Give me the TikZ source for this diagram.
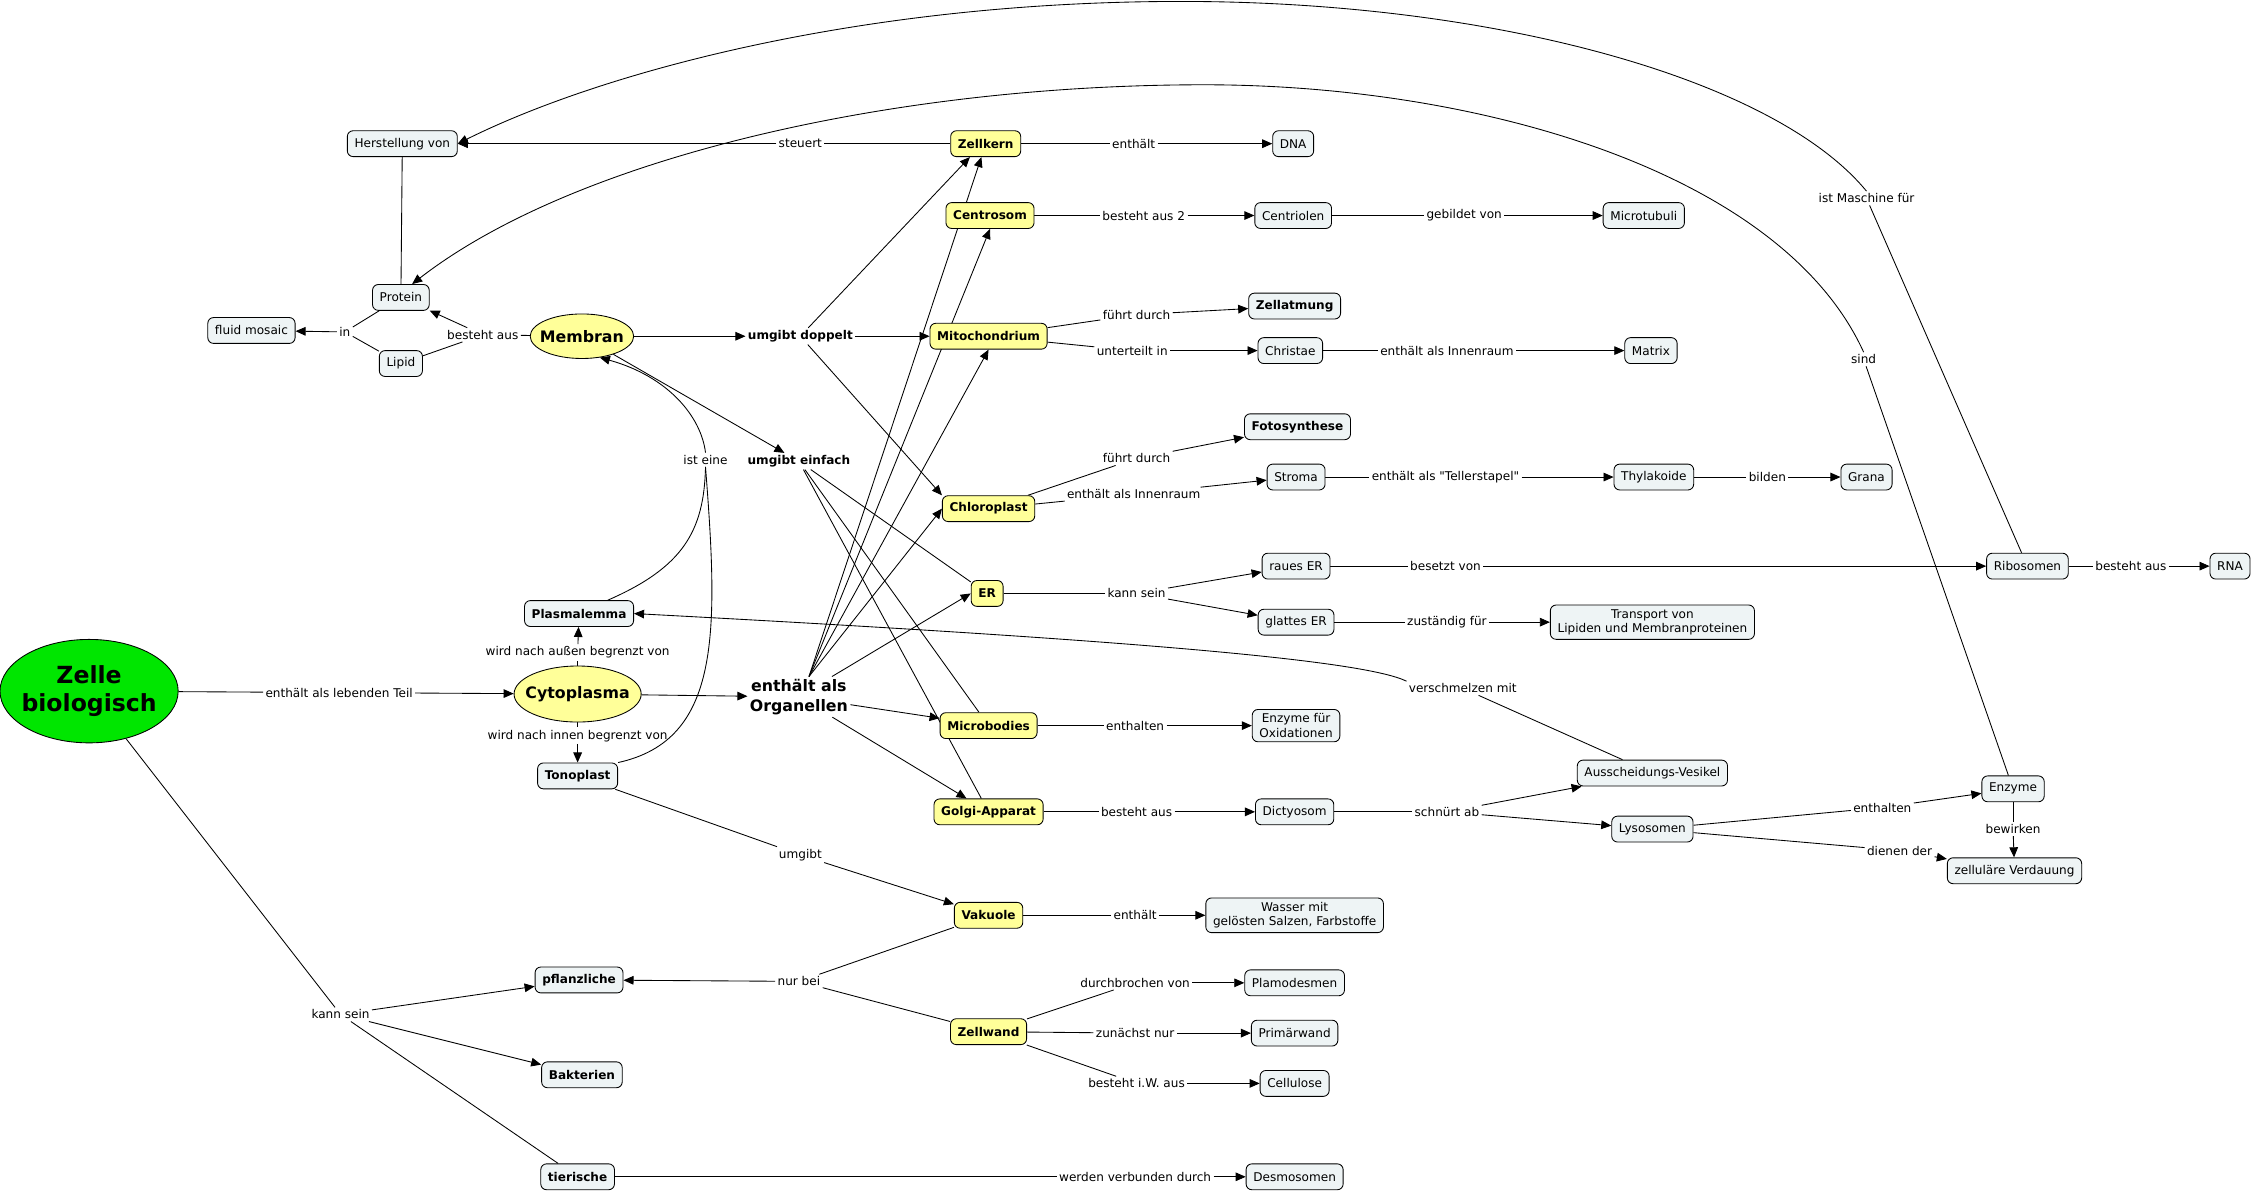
\documentclass[tikz,border=0pt]{standalone}
\usepackage{fontspec}
\setmainfont{DejaVu Sans}[Ligatures=TeXOff]
\usetikzlibrary{shapes.geometric, arrows.meta}
\pgfdeclarelayer{background}
\pgfsetlayers{background,main}

\definecolor{konzept}{RGB}{238,244,245}
\definecolor{organell}{RGB}{255,255,153}
\definecolor{zellgruen}{RGB}{0,230,0}

\tikzset{
  cpt/.style={draw, line width=0.6pt, rounded corners=4pt, fill=konzept, align=center,
    font=\fontsize{8.4}{10}\selectfont, inner xsep=5pt, inner ysep=3pt, minimum height=18pt},
  cptb/.style={cpt, font=\fontsize{8.4}{10}\selectfont\bfseries},
  orgn/.style={cptb, fill=organell},
  oval/.style={draw, line width=0.6pt, ellipse, fill=organell, inner xsep=-5pt, inner ysep=0pt,
    font=\fontsize{11}{14}\selectfont\bfseries},
  lbl/.style={font=\fontsize{8.4}{10}\selectfont, inner sep=1.5pt},
  lblb/.style={lbl, font=\fontsize{8.4}{10}\selectfont\bfseries},
  lblgross/.style={lbl, align=center, font=\fontsize{11}{14}\selectfont\bfseries},
  con/.style={line width=0.6pt},
  arr/.style={con, -{Triangle[length=7pt,width=6pt]}},
}

\begin{document}
\begin{tikzpicture}[x=1pt,y=-1pt]
\useasboundingbox (0,0) rectangle (1568,830);

% Begriffe
\node[cpt] (herstellung) at (280,100) {Herstellung von};
\node[orgn] (zellkern) at (686,100) {Zellkern};
\node[cpt] (dna) at (900,100) {DNA};
\node[orgn] (centrosom) at (689,150) {Centrosom};
\node[cpt] (centriolen) at (900,150) {Centriolen};
\node[cpt] (microtubuli) at (1144,150) {Microtubuli};
\node[cpt] (protein) at (279,207) {Protein};
\node[cpt] (fluid) at (175,230) {fluid mosaic};
\node[cpt] (lipid) at (279,253) {Lipid};
\node[oval, minimum width=72pt, minimum height=31pt] (membran) at (405,234) {Membran};
\node[cptb] (zellatmung) at (901,213) {Zellatmung};
\node[orgn] (mito) at (688,234) {Mitochondrium};
\node[cpt] (christae) at (898,244) {Christae};
\node[cpt] (matrix) at (1149,244) {Matrix};
\node[cptb] (foto) at (903,297) {Fotosynthese};
\node[cpt] (stroma) at (902,332) {Stroma};
\node[cpt] (thylakoide) at (1151,332) {Thylakoide};
\node[cpt] (grana) at (1299,332) {Grana};
\node[orgn] (chloro) at (688,354) {Chloroplast};
\node[cpt] (raues) at (902,394) {raues ER};
\node[cpt] (ribo) at (1411,394) {Ribosomen};
\node[cpt] (rna) at (1552,394) {RNA};
\node[orgn] (er) at (687,413) {ER};
\node[cpt] (glattes) at (902,433) {glattes ER};
\node[cpt] (transport) at (1150,433) {Transport von\\Lipiden und Membranproteinen};
\node[cptb] (plasma) at (403,427) {Plasmalemma};
\node[oval, fill=zellgruen, inner xsep=-4pt, minimum width=124pt, minimum height=72pt,
  align=center, font=\fontsize{16.4}{20}\selectfont\bfseries] (zelle) at (62,481) {Zelle\\biologisch};
\node[oval, minimum width=88pt, minimum height=39pt] (cyto) at (402,483) {Cytoplasma};
\node[orgn] (mikro) at (688,505) {Microbodies};
\node[cpt] (enzox) at (902,505) {Enzyme für\\Oxidationen};
\node[cpt] (vesikel) at (1150,538) {Ausscheidungs-Vesikel};
\node[cptb] (tono) at (402,540) {Tonoplast};
\node[cpt] (enzyme) at (1401,549) {Enzyme};
\node[orgn] (golgi) at (688,565) {Golgi-Apparat};
\node[cpt] (dictyo) at (901,565) {Dictyosom};
\node[cpt] (lyso) at (1150,577) {Lysosomen};
\node[cpt] (verdauung) at (1402,606) {zelluläre Verdauung};
\node[orgn] (vakuole) at (688,637) {Vakuole};
\node[cpt] (wasser) at (901,637) {Wasser mit\\gelösten Salzen, Farbstoffe};
\node[cptb] (pflanz) at (403,682) {pflanzliche};
\node[cpt] (plamo) at (901,684) {Plamodesmen};
\node[orgn] (zellwand) at (688,718) {Zellwand};
\node[cpt] (primaer) at (901,719) {Primärwand};
\node[cptb] (bakt) at (405,748) {Bakterien};
\node[cpt] (cellulose) at (901,754) {Cellulose};
\node[cptb] (tier) at (402,819) {tierische};
\node[cpt] (desmo) at (901,819) {Desmosomen};

% Verbindungswoerter
\node[lbl] (lsteuert) at (557,100) {steuert};
\node[lbl] (lenth1) at (789,100) {enthält};
\node[lbl] (lbest2) at (796,150) {besteht aus 2};
\node[lbl] (lgebildet) at (1019,150) {gebildet von};
\node[lbl] (lmaschine) at (1299,138) {ist Maschine für};
\node[lbl] (lsind) at (1297,250) {sind};
\node[lbl] (lin) at (240,231) {in};
\node[lbl] (lbesteht) at (336,233) {besteht aus};
\node[lblb] (ldoppelt) at (557,234) {umgibt doppelt};
\node[lblb] (leinfach) at (556,321) {umgibt einfach};
\node[lbl] (lfuehrt1) at (791,219) {führt durch};
\node[lbl] (lunterteilt) at (788,244) {unterteilt in};
\node[lbl] (linnen1) at (1007,244) {enthält als Innenraum};
\node[lbl] (lfuehrt2) at (791,319) {führt durch};
\node[lbl] (linnen2) at (789,344) {enthält als Innenraum};
\node[lbl] (lteller) at (1006,332) {enthält als "Tellerstapel"};
\node[lbl] (lbilden) at (1230,332) {bilden};
\node[lbl] (listeine) at (491,320) {ist eine};
\node[lbl] (lkann1) at (791,413) {kann sein};
\node[lbl] (lbesetzt) at (1006,394) {besetzt von};
\node[lbl] (lbest3) at (1483,394) {besteht aus};
\node[lbl] (lzust) at (1007,433) {zuständig für};
\node[lbl] (laussen) at (402,454) {wird nach außen begrenzt von};
\node[lbl] (llebend) at (236,482) {enthält als lebenden Teil};
\node[lbl] (linnen) at (402,512) {wird nach innen begrenzt von};
\node[lblgross] (lorg) at (556,485) {enthält als\\Organellen};
\node[lbl] (lverschm) at (1018,479) {verschmelzen mit};
\node[lbl] (lenthalten1) at (790,505) {enthalten};
\node[lbl] (lbest4) at (791,565) {besteht aus};
\node[lbl] (lschnuert) at (1007,565) {schnürt ab};
\node[lbl] (lenthalten2) at (1310,562) {enthalten};
\node[lbl] (lbewirken) at (1401,577) {bewirken};
\node[lbl] (ldienen) at (1322,592) {dienen der};
\node[lbl] (lumgibt) at (557,595) {umgibt};
\node[lbl] (lenth2) at (790,637) {enthält};
\node[lbl] (lnurbei) at (556,683) {nur bei};
\node[lbl] (ldurch) at (790,684) {durchbrochen von};
\node[lbl] (lzunaechst) at (790,719) {zunächst nur};
\node[lbl] (liwaus) at (791,754) {besteht i.W. aus};
\node[lbl] (lkann2) at (237,706) {kann sein};
\node[lbl] (lverbunden) at (790,819) {werden verbunden durch};

\begin{pgfonlayer}{background}
\fill[white] (0,0) rectangle (1568,830);

\draw[con] (zellkern) -- (lsteuert);
\draw[arr] (lsteuert) -- (herstellung);
\draw[con] (zellkern) -- (lenth1);
\draw[arr] (lenth1) -- (dna);
\draw[con] (centrosom) -- (lbest2);
\draw[arr] (lbest2) -- (centriolen);
\draw[con] (centriolen) -- (lgebildet);
\draw[arr] (lgebildet) -- (microtubuli);
\draw[con] (herstellung) -- (protein);

% die grossen Boegen
\draw[con] (ribo) -- (lmaschine);
\draw[arr] (lmaschine.north) .. controls (1235,55) and (1040,1) .. (822,1)
  .. controls (600,1) and (419,50) .. (herstellung.east);
\draw[con] (enzyme) -- (lsind);
\draw[arr] (lsind.north) .. controls (1240,120) and (1030,59) .. (838,59)
  .. controls (620,59) and (400,110) .. (protein.50);

\draw[con] (protein) -- (lin);
\draw[con] (lipid) -- (lin);
\draw[arr] (lin) -- (fluid);
\draw[con] (membran) -- (lbesteht);
\draw[arr] (lbesteht) -- (protein);
\draw[con] (lbesteht) -- (lipid);

\draw[arr] (membran) -- (ldoppelt);
\draw[arr] (ldoppelt) -- (mito);
\draw[arr] (ldoppelt) -- ([xshift=-11pt]zellkern.south);
\draw[arr] (ldoppelt) -- (chloro.north west);
\draw[arr] (membran) -- (leinfach);
\draw[con] (leinfach) -- (er);
\draw[con] (leinfach) -- (mikro);
\draw[con] (leinfach) -- (golgi);

\draw[con] (zelle) -- (llebend);
\draw[arr] (llebend) -- (cyto);
\draw[con] (cyto) -- (laussen);
\draw[arr] (laussen) -- (plasma);
\draw[con] (cyto) -- (linnen);
\draw[arr] (linnen) -- (tono);
\draw[arr] (cyto) -- (lorg);

% Organellen
\draw[arr] ([xshift=7pt]lorg.north) -- ([xshift=-3pt]zellkern.south);
\draw[arr] ([xshift=7pt]lorg.north) -- (centrosom.south);
\draw[arr] ([xshift=7pt]lorg.north) -- (mito.south);
\draw[arr] ([xshift=7pt]lorg.north) -- (chloro.west);
\draw[arr] ([xshift=23pt]lorg.north) -- (er.west);
\draw[arr] (lorg) -- (mikro);
\draw[arr] (lorg) -- (golgi);

\draw[con] (mito) -- (lfuehrt1);
\draw[arr] (lfuehrt1) -- (zellatmung);
\draw[con] (mito) -- (lunterteilt);
\draw[arr] (lunterteilt) -- (christae);
\draw[con] (christae) -- (linnen1);
\draw[arr] (linnen1) -- (matrix);

\draw[con] (chloro) -- (lfuehrt2);
\draw[arr] (lfuehrt2) -- (foto);
\draw[con] (chloro) -- (linnen2);
\draw[arr] (linnen2) -- (stroma);
\draw[con] (stroma) -- (lteller);
\draw[arr] (lteller) -- (thylakoide);
\draw[con] (thylakoide) -- (lbilden);
\draw[arr] (lbilden) -- (grana);

\draw[con] (er) -- (lkann1);
\draw[arr] (lkann1) -- (raues);
\draw[arr] (lkann1) -- (glattes);
\draw[con] (raues) -- (lbesetzt);
\draw[arr] (lbesetzt) -- (ribo);
\draw[con] (ribo) -- (lbest3);
\draw[arr] (lbest3) -- (rna);
\draw[con] (glattes) -- (lzust);
\draw[arr] (lzust) -- (transport);

\draw[con] ([xshift=20pt]plasma.north) .. controls (475,395) and (490,370) .. (listeine.south);
\draw[con] (tono.north east) .. controls (502,515) and (500,440) .. (listeine.south);
\draw[arr] (listeine.north) .. controls (488,290) and (465,262) .. (membran.-50);

\draw[con] (mikro) -- (lenthalten1);
\draw[arr] (lenthalten1) -- (enzox);
\draw[con] (golgi) -- (lbest4);
\draw[arr] (lbest4) -- (dictyo);
\draw[con] (dictyo) -- (lschnuert);
\draw[arr] (lschnuert) -- (vesikel);
\draw[arr] (lschnuert) -- (lyso);
\draw[con] (vesikel) -- (lverschm);
\draw[arr] (lverschm.north west) .. controls (950,460) and (800,446) .. (plasma.east);

\draw[con] (lyso) -- (lenthalten2);
\draw[arr] (lenthalten2) -- (enzyme);
\draw[con] (lyso) -- (ldienen);
\draw[arr] (ldienen) -- (verdauung);
\draw[con] (enzyme) -- (lbewirken);
\draw[arr] (lbewirken) -- (verdauung);

\draw[con] (tono) -- (lumgibt);
\draw[arr] (lumgibt) -- (vakuole);
\draw[con] (vakuole) -- (lenth2);
\draw[arr] (lenth2) -- (wasser);
\draw[con] (vakuole) -- (lnurbei);
\draw[con] (zellwand) -- (lnurbei);
\draw[arr] (lnurbei) -- (pflanz);
\draw[con] (zellwand) -- (ldurch);
\draw[arr] (ldurch) -- (plamo);
\draw[con] (zellwand) -- (lzunaechst);
\draw[arr] (lzunaechst) -- (primaer);
\draw[con] (zellwand) -- (liwaus);
\draw[arr] (liwaus) -- (cellulose);

\draw[con] (zelle) -- (lkann2);
\draw[arr] (lkann2) -- (pflanz);
\draw[arr] (lkann2) -- (bakt);
\draw[con] (lkann2) -- (tier);
\draw[con] (tier) -- (lverbunden);
\draw[arr] (lverbunden) -- (desmo);
\end{pgfonlayer}
\end{tikzpicture}
\end{document}
